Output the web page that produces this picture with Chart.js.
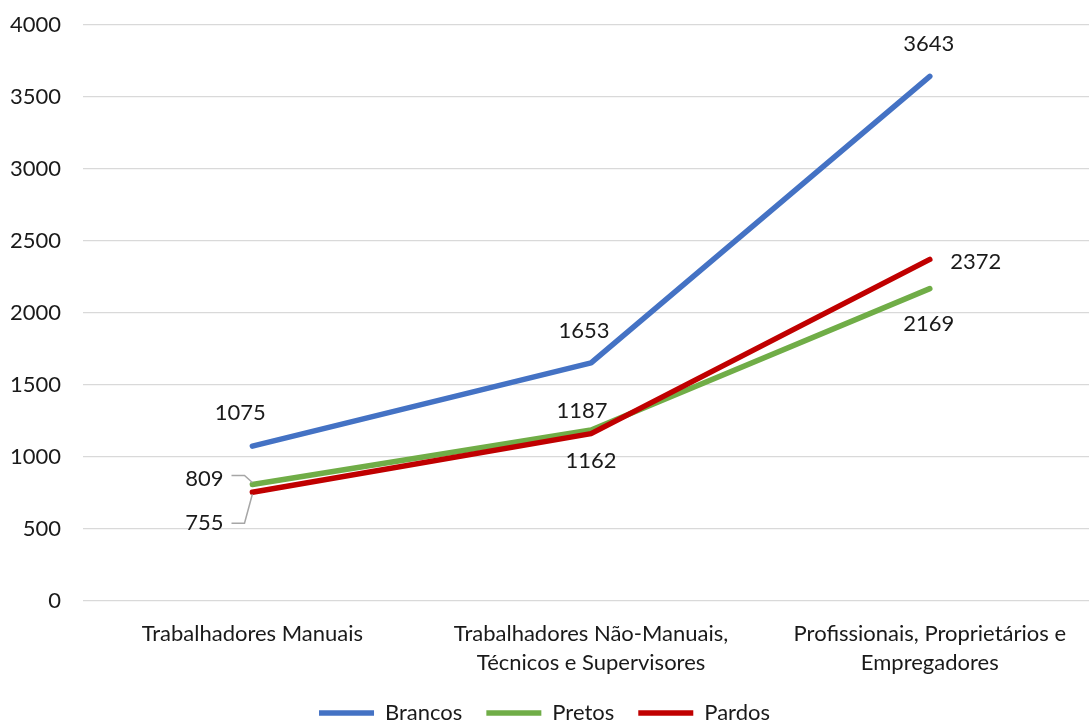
<!DOCTYPE html>
<html>
<head>
<meta charset="utf-8">
<script src="https://cdn.jsdelivr.net/npm/chart.js@4/dist/chart.umd.min.js"></script>
<style>
  html, body { margin: 0; padding: 0; background: #fff; overflow: hidden; }
  #wrap { width: 1089px; height: 722px; position: relative; }
</style>
</head>
<body>
<div id="wrap"><canvas id="chart"></canvas></div>
<script>
// categories and series
const categories = [
  "Trabalhadores Manuais",
  ["Trabalhadores Não-Manuais,", "Técnicos e Supervisores"],
  ["Profissionais, Proprietários e", "Empregadores"]
];
const brancos = [1075, 1653, 3643];
const pretos = [809, 1187, 2169];
const pardos = [755, 1162, 2372];
const yTicks = [0, 500, 1000, 1500, 2000, 2500, 3000, 3500, 4000];

// where each value label sits relative to its point (dx, dy), and if it gets a leader line
const labelOffsets = [
  [[-12, -33], [-7, -32], [-1, -32]],
  [[-48, -6], [-9, -19], [-1, 35]],
  [[-48, 31], [0, 27], [46, 3]]
];
const leaders = [
  [false, false, false],
  [true, false, false],
  [true, false, false]
];

const FONT = "Lato, 'Open Sans', sans-serif";
const SIZE = 22;
const TEXT = "#1a1a1a";

const toPoints = arr => arr.map((v, i) => ({ x: i, y: v }));

const valueLabels = {
  id: "valueLabels",
  afterDatasetsDraw(chart) {
    const ctx = chart.ctx;
    ctx.save();
    ctx.font = SIZE + "px " + FONT;
    ctx.textAlign = "center";
    ctx.textBaseline = "middle";
    chart.data.datasets.forEach((ds, di) => {
      const meta = chart.getDatasetMeta(di);
      meta.data.forEach((pt, i) => {
        const [dx, dy] = labelOffsets[di][i];
        const lx = pt.x + dx, ly = pt.y + dy;
        const txt = String(ds.data[i].y);
        ctx.fillStyle = TEXT;
        ctx.fillText(txt, lx, ly);
        if (leaders[di][i]) {
          const right = lx + ctx.measureText(txt).width / 2;
          const hy = ly - (dy < 0 ? 3 : 0);
          ctx.strokeStyle = "#a6a6a6";
          ctx.lineWidth = 1.5;
          ctx.beginPath();
          ctx.moveTo(right + 8, hy);
          ctx.lineTo(right + 21, hy);
          ctx.lineTo(pt.x, pt.y + (dy < 0 ? -2 : 2));
          ctx.stroke();
        }
      });
    });
    ctx.restore();
  }
};

const lineStyle = {
  borderWidth: 5.5,
  pointRadius: 0,
  borderCapStyle: "round",
  borderJoinStyle: "round",
  tension: 0,
  fill: false
};

new Chart(document.getElementById("chart"), {
  type: "line",
  data: {
    datasets: [
      { label: "Brancos", data: toPoints(brancos), borderColor: "#4472c4", backgroundColor: "#4472c4", order: 2, ...lineStyle },
      { label: "Pretos", data: toPoints(pretos), borderColor: "#70ad47", backgroundColor: "#70ad47", order: 1, ...lineStyle },
      { label: "Pardos", data: toPoints(pardos), borderColor: "#c00000", backgroundColor: "#c00000", order: 0, ...lineStyle }
    ]
  },
  options: {
    responsive: true,
    maintainAspectRatio: false,
    animation: false,
    layout: { padding: { top: 25, left: 0, right: 0, bottom: -12 } },
    plugins: {
      tooltip: { enabled: false },
      legend: {
        position: "bottom",
        labels: {
          usePointStyle: true,
          pointStyle: "line",
          pointStyleWidth: 55,
          padding: 24,
          color: TEXT,
          font: { family: FONT, size: SIZE },
          sort: (a, b) => a.datasetIndex - b.datasetIndex
        }
      }
    },
    scales: {
      x: {
        type: "linear",
        min: -0.5,
        max: 2.47,
        afterBuildTicks: s => { s.ticks = categories.map((c, i) => ({ value: i })); },
        afterFit: s => { s.paddingLeft = 0; s.paddingRight = 0; s.height -= 9; },
        grid: { display: false },
        border: { display: false },
        ticks: {
          autoSkip: false,
          maxRotation: 0,
          padding: 10,
          color: TEXT,
          font: { family: FONT, size: SIZE, lineHeight: 1.32 },
          callback: v => categories[v]
        }
      },
      y: {
        min: 0,
        max: 4000,
        afterBuildTicks: s => { s.ticks = yTicks.map(v => ({ value: v })); },
        afterFit: s => { s.width = 83; s.paddingTop = 0; s.paddingBottom = 0; },
        grid: { color: "#d9d9d9", lineWidth: 1.3, drawTicks: false },
        border: { display: false },
        ticks: {
          padding: 22,
          color: TEXT,
          font: { family: FONT, size: SIZE },
          callback: v => String(v)
        }
      }
    }
  },
  plugins: [valueLabels]
});
</script>
</body>
</html>
